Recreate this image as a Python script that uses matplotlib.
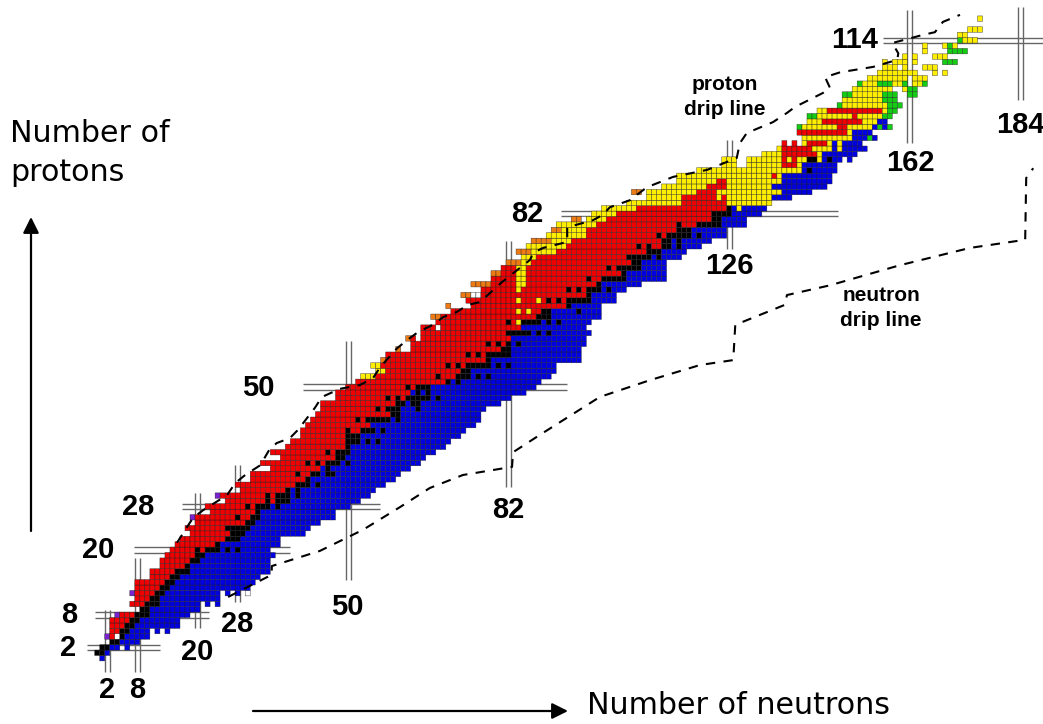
import numpy as np
import matplotlib
matplotlib.use("Agg")
import matplotlib.pyplot as plt
from matplotlib.colors import ListedColormap

# ---- per-row table: proton number, first red cell, first black, first blue, last blue
red_first = [1,0,1,3,3,3,3,3,5,9,7,8,8,8,8,11,11,13,13,14,15,16,17,19,18,20,20,23,22,26,25,29,28,31,31,35,33,37,35,38,
             39,41,41,42,43,44,45,45,48,48,50,52,53,56,55,58,58,63,63,63,65,65,68,69,71,75,74,77,77,79,79,81,81,85,85,87,86,91,90,93,92,98,99,101]
black_first = [1,0,1,3,5,5,6,7,8,9,10,11,12,13,14,15,16,18,19,20,22,24,26,27,27,30,31,32,32,36,36,38,40,42,43,45,46,48,48,50,
               50,51,53,55,54,59,58,60,62,64,64,70,72,73,74,78,78,81,82,83,82,85,84,88,89,94,94,98,98,100,101,105,104,107,107,110,113,113,114,116,120,123,123,126]
blue_first = [1,2,3,5,6,7,8,9,11,11,13,13,14,15,16,17,19,19,21,22,25,25,29,30,31,32,33,33,35,39,39,39,43,43,45,45,49,50,51,51,
              53,53,56,55,59,61,61,62,67,65,67,73,75,75,79,79,83,83,83,83,87,85,89,91,91,95,99,99,101,101,106,106,109,109,113,113,117,117,119,119,125,125,127,129]
blue_last = [1,2,4,8,10,10,16,16,18,20,20,24,24,30,31,32,34,33,34,35,34,36,36,41,42,44,47,47,50,52,54,55,57,59,60,62,64,65,67,69,
             70,72,73,75,76,76,77,80,82,85,87,88,90,91,91,96,96,96,97,97,98,97,98,100,100,100,103,103,105,108,113,113,113,113,116,117,120,122,125,125,129,129,132,133]

# ---- single cells (proton number, neutron number)
black_cells = [(20,20),(20,26),(20,28),(24,26),(26,28),(28,30),(28,36),(29,34),(30,34),(30,40),(31,40),(32,44),(34,40),
               (34,46),(34,47),(35,46),(36,42),(36,44),(36,50),(38,46),(40,54),(40,56),(41,50),(42,50),(42,57),(44,52),
               (44,60),(46,56),(46,64),(47,63),(47,64),(48,58),(48,60),(48,68),(49,66),(50,62),(52,68),(52,76),(52,78),
               (54,70),(54,72),(54,80),(54,82),(56,74),(56,76),(58,78),(58,80),(58,84),(60,88),(60,90),(62,82),(62,90),
               (62,92),(64,96),(66,90),(66,92),(68,94),(68,96),(68,102),(70,98),(70,105),(72,102),(74,106),(74,112),
               (76,108),(76,110),(78,112),(78,120),(80,116),(90,142),(92,142),(92,143),(92,146)]
blue_cells = [(2,6),(5,12),(5,14),(10,22),(10,24),(12,26),(12,28),(17,34),(49,63),(51,71),(74,111),(76,115),(77,115)]
purple_cells = [(4,2),(8,4),(12,7),(26,19),(30,24)]
white_cells = [(12,30),(61,68),(67,75),(67,76),(81,97)]
blank_cells = [(4,4),(59,64)]

# ---- runs (proton number, first neutron, last neutron)
yellow_runs = [(52,53,55),(53,56,57),(54,55,56),(62,84,84),(64,84,84),(64,86,86),(66,84,84),(66,88,88),(68,84,84),(69,84,85),
               (70,84,85),(71,84,85),(72,84,85),(73,85,86),(74,85,87),(75,87,91),(76,86,93),(77,91,94),(78,90,97),(79,93,97),
               (80,92,99),(81,98,101),(82,99,103),(83,101,107),(83,128,128),(84,106,116),(84,126,134),(85,110,116),(85,124,124),
               (85,126,134),(86,110,119),(86,124,136),(87,113,121),(87,126,134),(88,116,123),(88,126,136),(88,138,138),(89,116,134),
               (89,136,136),(90,120,140),(91,125,127),(91,130,136),(91,140,140),(92,125,127),(92,130,136),(92,138,138),(92,140,141),
               (92,144,144),(93,133,136),(93,144,144),(94,136,136),(94,143,146),(94,148,148),(95,141,141),(95,146,146),(95,148,148),
               (96,141,150),(97,150,150),(98,141,147),(98,150,154),(99,142,144),(99,153,155),(100,144,150),(100,152,156),(101,144,145),
               (101,157,157),(102,149,157),(103,149,156),(104,151,156),(105,151,158),(105,161,161),(106,153,155),(106,159,160),
               (106,163,164),(107,154,161),(107,163,165),(108,156,163),(108,167,167),(108,169,169),(109,157,159),(109,161,161),
               (109,165,167),(110,157,157),(110,159,161),(110,163,163),(111,161,161),(111,163,163),(111,167,169),(112,165,165),
               (113,165,165),(113,169,171),(114,173,175),(115,172,173),(116,174,176),(118,176,176)]
orange_runs = [(55,57,57),(57,60,60),(59,62,62),(63,67,68),(65,70,70),(67,73,74),(69,75,78),(71,79,80),(73,82,84),(75,84,86),
               (77,87,90),(79,91,92),(81,95,96),(86,107,108)]
red_runs = [(84,117,125),(85,117,123),(85,125,125),(86,120,123),(87,122,125),(88,124,125),(89,135,135),(91,137,139),(92,137,137),
            (92,139,139),(93,137,143),(94,137,142),(95,137,137),(95,139,139),(95,142,145),(97,140,149),(98,148,149),(99,145,152),
            (100,151,151),(101,146,156)]
blue_runs = [(83,127,127),(85,135,138),(86,137,142),(87,135,145),(88,137,146),(89,137,146),(90,141,147),(91,141,147),(92,145,148),
             (92,150,150),(93,145,151),(94,147,147),(94,149,153),(95,147,147),(95,149,152),(96,151,153),(96,155,155),(97,151,154),
             (98,155,155),(98,157,157),(99,156,157)]
green_runs = [(96,154,154),(98,140,140),(98,156,156),(98,158,158),(100,142,143),(100,157,158),(101,158,159),(102,148,148),(102,158,160),
              (103,157,159),(104,149,150),(104,157,159),(104,162,163),(105,162,163),(106,152,152),(106,156,158),(106,161,161),
              (106,165,165),(110,169,171),(112,170,173),(113,170,170),(114,172,172)]

# ---- drip lines
proton_drip_n = [16.4,19.6,21.6,26.4,28.0,30.0,33.0,34.9,36.3,38.9,40.5,43.9,45.3,48.9,52.9,55.5,56.9,60.3,62.3,64.5,67.4,69.4,72.2,74.4,
                 76.8,81.2,83.8,86.8,87.4,89.4,94.2,94.2,99.3,101.3,102.7,106.7,110.1,115.3,122.1,128.0,128.6,130.0,135.2,138.0,139.6,
                 145.2,146.6,145.6,148.6,155.2,160.0,160.2,159.0,165.1,167.5,169.1,172.5]
proton_drip_z = [21.8,26.4,27.8,30.6,32.8,34.3,36.1,39.1,40.2,41.1,42.6,46.7,48.7,50.2,50.9,52.2,54.2,57.7,59.2,60.7,62.0,63.4,64.4,65.7,
                 66.2,69.9,71.8,74.0,75.3,76.2,77.3,80.0,81.3,82.3,83.7,85.0,87.4,89.3,90.6,92.8,95.5,97.4,99.4,101.1,102.2,
                 104.8,105.7,107.7,108.6,109.6,110.9,112.1,114.0,115.5,116.0,117.9,119.2]
neutron_drip_n = [26.6,35.3,35.3,44.9,53.5,60.9,66.8,73.4,83.2,83.4,88.4,100.7,110.7,120.7,127.3,127.7,137.6,138.0,146.6,160.5,174.5,185.5,185.7,187.1]
neutron_drip_z = [11.8,15.9,17.5,20.3,24.2,28.4,31.9,34.3,35.8,38.5,41.5,48.7,51.8,54.6,55.5,62.0,65.7,67.5,69.3,73.0,76.2,77.7,89.1,90.9]

# ---- magic numbers and the reach of their guide lines
magic_n = [2,8,20,28,50,82,126,162,184]
magic_n_low = [-2.0,-2.0,6.1,10.9,14.9,32.1,76.0,95.6,103.5]
magic_n_high = [9.4,19.0,31.0,36.1,59.0,77.5,96.1,120.1,120.6]
magic_z = [2,8,20,28,50,82,114]
magic_z_low = [-1.5,0.0,7.8,17.4,41.5,93.0,157.2]
magic_z_high = [13.0,22.8,39.0,56.9,94.2,148.2,189.0]

labels_n = ["2","8","20","28","50","82","126","162","184"]
labels_z = ["2","8","20","28","50","82","114"]

NONE, WHITE, RED, BLACK, BLUE, YELLOW, ORANGE, GREEN, PURPLE = range(9)
palette = ["#ffffff","#ffffff","#f00000","#000000","#0000e0","#ffee00","#ee7a14","#14cc14","#7a22d0"]

grid = np.zeros((122, 190), dtype=int)
for z, (l, k, b, e) in enumerate(zip(red_first, black_first, blue_first, blue_last)):
    grid[z, l:k] = RED
    grid[z, k:b] = BLACK
    grid[z, b:e + 1] = BLUE
for code, runs in [(YELLOW, yellow_runs), (ORANGE, orange_runs), (RED, red_runs), (BLUE, blue_runs), (GREEN, green_runs)]:
    for z, a, b in runs:
        grid[z, a:b + 1] = code
for code, cells in [(BLACK, black_cells), (BLUE, blue_cells), (PURPLE, purple_cells), (WHITE, white_cells), (NONE, blank_cells)]:
    for z, n in cells:
        grid[z, n] = code

fig = plt.figure(figsize=(10.43, 7.24), dpi=100)
ax = fig.add_axes([0, 0, 1, 1])
ax.set_xlim(-18.88, 189.05)
ax.set_ylim(-11.64, 121.94)
ax.axis("off")

# guide lines under the cells
guide = dict(color="#666666", lw=1.0, zorder=1)
for m, lo, hi in zip(magic_n, magic_n_low, magic_n_high):
    ax.vlines([m, m + 1], lo, hi, **guide)
for m, lo, hi in zip(magic_z, magic_z_low, magic_z_high):
    ax.hlines([m, m + 1], lo, hi, **guide)

masked = np.ma.masked_equal(grid, NONE)
ax.pcolor(np.arange(191), np.arange(123), masked, cmap=ListedColormap(palette), vmin=-0.5, vmax=8.5,
          edgecolors="#222222", linewidth=0.28, zorder=2)

dash = dict(color="black", lw=1.5, ls=(0, (4.5, 4)), zorder=3)
ax.plot(proton_drip_n, proton_drip_z, **dash)
ax.plot(neutron_drip_n, neutron_drip_z, **dash)

W, H = 1043.0, 724.0
def put(x, y, s, **kw):
    fig.text(x / W, 1 - y / H, s, **kw)

bold = dict(family=["Liberation Sans", "DejaVu Sans"], weight="bold", fontsize=21, ha="center", va="center", color="black")
pos_n = [(107,690),(137,690),(197,652),(237,624),(347,607),(508,510),(729,266),(910,163),(1020,125)]
pos_z = [(68,648),(69,615),(98,550),(138,507),(258,388),(527,214),(855,40)]
for (x, y), s in zip(pos_n, labels_n):
    put(x, y, s, **bold)
for (x, y), s in zip(pos_z, labels_z):
    put(x, y, s, **bold)

small = dict(bold, fontsize=15, linespacing=1.45)
put(725, 97, "proton\ndrip line", **small)
put(881, 308, "neutron\ndrip line", **small)

put(10, 153, "Number of\nprotons", fontsize=21.7, family="DejaVu Sans", ha="left", va="center", linespacing=1.45)
put(587, 705, "Number of neutrons", fontsize=21.7, family="DejaVu Sans", ha="left", va="center")

arrow = dict(arrowstyle="-|>", color="black", lw=1.6, mutation_scale=24, shrinkA=0, shrinkB=0)
ax.annotate("", xy=(31 / W, 1 - 217 / H), xytext=(31 / W, 1 - 531 / H), xycoords="axes fraction", arrowprops=arrow)
ax.annotate("", xy=(568 / W, 1 - 711 / H), xytext=(253 / W, 1 - 711 / H), xycoords="axes fraction", arrowprops=arrow)

fig.savefig("out.png", dpi=100)
